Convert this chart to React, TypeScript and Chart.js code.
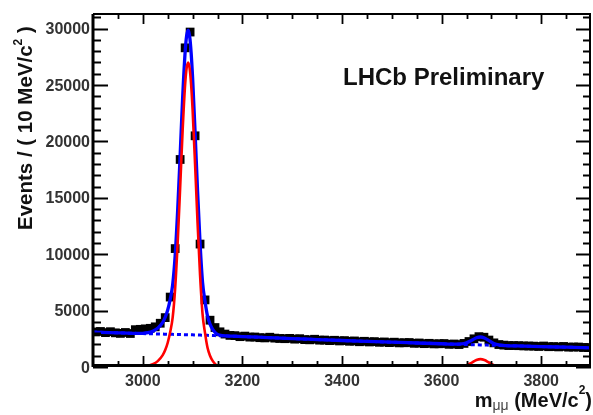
import { useEffect, useRef } from "react";
import { Chart, registerables } from "chart.js";

Chart.register(...registerables);

// ---- Data ----
const binCenters = [
  2905, 2915, 2925, 2935, 2945, 2955, 2965, 2975, 2985, 2995,
  3005, 3015, 3025, 3035, 3045, 3055, 3065, 3075, 3085, 3095,
  3105, 3115, 3125, 3135, 3145, 3155, 3165, 3175, 3185, 3195,
  3205, 3215, 3225, 3235, 3245, 3255, 3265, 3275, 3285, 3295,
  3305, 3315, 3325, 3335, 3345, 3355, 3365, 3375, 3385, 3395,
  3405, 3415, 3425, 3435, 3445, 3455, 3465, 3475, 3485, 3495,
  3505, 3515, 3525, 3535, 3545, 3555, 3565, 3575, 3585, 3595,
  3605, 3615, 3625, 3635, 3645, 3655, 3665, 3675, 3685, 3695,
  3705, 3715, 3725, 3735, 3745, 3755, 3765, 3775, 3785, 3795,
  3805, 3815, 3825, 3835, 3845, 3855, 3865, 3875, 3885, 3895,
];

const eventCounts = [
  3110, 3150, 3050, 3130, 3030, 2980, 3060, 2970, 3310, 3340,
  3380, 3430, 3560, 3880, 4380, 6200, 10500, 18400, 28300, 29700,
  20500, 10900, 5950, 4150, 3500, 3120, 2920, 2800, 2780, 2690,
  2740, 2650, 2660, 2600, 2580, 2640, 2560, 2530, 2510, 2540,
  2470, 2510, 2430, 2410, 2460, 2380, 2390, 2340, 2370, 2310,
  2340, 2280, 2310, 2240, 2280, 2220, 2250, 2190, 2220, 2160,
  2200, 2140, 2150, 2170, 2100, 2130, 2070, 2100, 2050, 2060,
  2080, 2010, 2040, 1990, 2090, 2260, 2500, 2690, 2640, 2390,
  2140, 1990, 1940, 1900, 1900, 1890, 1870, 1860, 1850, 1820,
  1860, 1800, 1810, 1780, 1820, 1760, 1770, 1770, 1730, 1720,
];

const curveMass = [
  2900, 2950, 2980, 2990, 3000, 3010, 3020, 3030, 3040, 3045,
  3050, 3055, 3060, 3065, 3070, 3075, 3080, 3085, 3088, 3091,
  3094, 3097, 3100, 3105, 3110, 3115, 3120, 3125, 3130, 3135,
  3140, 3145, 3150, 3160, 3180, 3200, 3250, 3300, 3350, 3400,
  3450, 3500, 3550, 3600, 3620, 3640, 3650, 3660, 3670, 3678,
  3686, 3695, 3705, 3715, 3730, 3750, 3800, 3850, 3900,
];

const backgroundFit = [
  3100, 3030, 2990, 2976, 2962, 2950, 2939, 2928, 2917, 2911,
  2905, 2900, 2894, 2888, 2883, 2877, 2872, 2866, 2863, 2860,
  2857, 2853, 2850, 2842, 2835, 2827, 2820, 2812, 2805, 2797,
  2790, 2782, 2775, 2760, 2730, 2700, 2610, 2520, 2435, 2350,
  2275, 2200, 2130, 2060, 2034, 2008, 1995, 1982, 1969, 1959,
  1948, 1937, 1924, 1912, 1894, 1870, 1810, 1755, 1700,
];

const signalFit = [
  0, 0, 0, 5, 25, 90, 240, 520, 1050, 1500,
  2150, 3100, 4400, 7000, 11000, 15900, 21000, 25050, 26500, 27000,
  26500, 25050, 22810, 17960, 12740, 8140, 4690, 3000, 1700, 1000,
  560, 280, 120, 20, 0, 0, 0, 0, 0, 0,
  0, 0, 0, 0, 0, 42, 151, 372, 618, 700,
  618, 398, 168, 48, 3, 0, 0, 0, 0,
];

const totalFit = [
  3100, 3030, 2990, 2981, 2987, 3040, 3179, 3448, 3967, 4411,
  5055, 6000, 7294, 9888, 13883, 18777, 23872, 27916, 29363, 29860,
  29357, 27903, 25660, 20802, 15575, 10967, 7510, 5812, 4505, 3797,
  3350, 3062, 2895, 2780, 2730, 2700, 2610, 2520, 2435, 2350,
  2275, 2200, 2130, 2060, 2034, 2050, 2146, 2354, 2587, 2659,
  2566, 2335, 2092, 1960, 1897, 1870, 1810, 1755, 1700,
];

const xLabelTicks = [3000, 3200, 3400, 3600, 3800];
const xAllTicks = [
  2950, 3000, 3050, 3100, 3150, 3200, 3250, 3300, 3350, 3400,
  3450, 3500, 3550, 3600, 3650, 3700, 3750, 3800, 3850,
];
const yLabelTicks = [0, 5000, 10000, 15000, 20000, 25000, 30000];
const yAllTicks = [
  0, 1000, 2000, 3000, 4000, 5000, 6000, 7000, 8000, 9000, 10000,
  11000, 12000, 13000, 14000, 15000, 16000, 17000, 18000, 19000, 20000,
  21000, 22000, 23000, 24000, 25000, 26000, 27000, 28000, 29000, 30000, 31000,
];

const FONT = '"Liberation Sans", Arial, Helvetica, sans-serif';

type Part = { text: string; font: string; dy: number; color?: string };

function drawParts(ctx: CanvasRenderingContext2D, parts: Part[], x: number, y: number, align: "left" | "right") {
  let total = 0;
  for (const p of parts) {
    ctx.font = p.font;
    total += ctx.measureText(p.text).width;
  }
  let cx = align === "left" ? x : x - total;
  ctx.textAlign = "left";
  ctx.textBaseline = "alphabetic";
  for (const p of parts) {
    ctx.font = p.font;
    if (p.color) ctx.fillStyle = p.color;
    ctx.fillText(p.text, cx, y + p.dy);
    cx += ctx.measureText(p.text).width;
  }
}

const framePlugin = {
  id: "rootFrame",
  afterDatasetsDraw(chart: any) {
    const { ctx, chartArea: a, scales } = chart;
    const x = scales.x;
    const y = scales.y;
    ctx.save();
    ctx.strokeStyle = "#000";
    ctx.lineWidth = 1.8;
    ctx.beginPath();
    for (const v of xAllTicks) {
      const px = Math.round(x.getPixelForValue(v)) + 0.5;
      const len = xLabelTicks.includes(v) ? 10 : 5;
      ctx.moveTo(px, a.bottom - 1);
      ctx.lineTo(px, a.bottom - 1 - len);
      ctx.moveTo(px, a.top);
      ctx.lineTo(px, a.top + len);
    }
    for (const v of yAllTicks) {
      const py = Math.round(y.getPixelForValue(v)) + 0.5;
      const len = yLabelTicks.includes(v) ? 15 : 8;
      ctx.moveTo(a.left, py);
      ctx.lineTo(a.left + len, py);
      ctx.moveTo(a.right, py);
      ctx.lineTo(a.right - len, py);
    }
    ctx.stroke();

    // frame
    ctx.lineWidth = 3;
    ctx.beginPath();
    ctx.moveTo(a.left, a.top);
    ctx.lineTo(a.left, a.bottom);
    ctx.moveTo(a.left - 1.5, a.bottom - 1.5);
    ctx.lineTo(a.right, a.bottom - 1.5);
    ctx.stroke();
    ctx.lineWidth = 2;
    ctx.beginPath();
    ctx.moveTo(a.left, a.top);
    ctx.lineTo(a.right - 1, a.top);
    ctx.lineTo(a.right - 1, a.bottom - 1);
    ctx.stroke();

    // tick labels
    ctx.fillStyle = "#333";
    ctx.font = `bold 16px ${FONT}`;
    ctx.textBaseline = "alphabetic";
    ctx.textAlign = "center";
    for (const v of xLabelTicks) {
      ctx.fillText(String(v), x.getPixelForValue(v), a.bottom + 19);
    }
    ctx.textAlign = "right";
    for (const v of yLabelTicks) {
      ctx.fillText(String(v), a.left - 3, y.getPixelForValue(v) + 5.5);
    }

    // axis titles
    ctx.fillStyle = "#111";
    drawParts(
      ctx,
      [
        { text: "m", font: `bold 20px ${FONT}`, dy: 0 },
        { text: "\u03bc\u03bc", font: `14px ${FONT}`, dy: 3, color: "#444" },
        { text: " (MeV/c", font: `bold 20px ${FONT}`, dy: 0, color: "#111" },
        { text: "2", font: `bold 12px ${FONT}`, dy: -13 },
        { text: ")", font: `bold 20px ${FONT}`, dy: 0 },
      ],
      592,
      407,
      "right"
    );

    ctx.save();
    ctx.translate(32, 230);
    ctx.rotate(-Math.PI / 2);
    ctx.fillStyle = "#111";
    drawParts(
      ctx,
      [
        { text: "Events / ( 10 MeV/c", font: `bold 20.5px ${FONT}`, dy: 0 },
        { text: "2", font: `bold 12px ${FONT}`, dy: -10 },
        { text: " )", font: `bold 20.5px ${FONT}`, dy: 0 },
      ],
      0,
      0,
      "left"
    );
    ctx.restore();

    ctx.fillStyle = "#111";
    ctx.font = `bold 24px ${FONT}`;
    ctx.textAlign = "left";
    ctx.fillText("LHCb Preliminary", 343, 85);

    ctx.restore();
  },
};

export default function App() {
  const canvasRef = useRef<HTMLCanvasElement | null>(null);

  useEffect(() => {
    const canvas = canvasRef.current;
    if (!canvas) return;
    const pointsData = binCenters.map((m, i) => ({ x: m, y: eventCounts[i] }));
    const bkgData = curveMass.map((m, i) => ({ x: m, y: backgroundFit[i] }));
    const sigData = curveMass.map((m, i) => ({ x: m, y: signalFit[i] }));
    const totData = curveMass.map((m, i) => ({ x: m, y: totalFit[i] }));

    const chart = new Chart(canvas, {
      type: "scatter",
      data: {
        datasets: [
          {
            label: "Signal",
            data: sigData,
            showLine: true,
            borderColor: "#ff0000",
            borderWidth: 2.6,
            pointRadius: 0,
            cubicInterpolationMode: "monotone",
            order: 0,
          } as any,
          {
            label: "Total fit",
            data: totData,
            showLine: true,
            borderColor: "#0000ff",
            borderWidth: 3.3,
            pointRadius: 0,
            cubicInterpolationMode: "monotone",
            order: 1,
          } as any,
          {
            label: "Background",
            data: bkgData,
            showLine: true,
            borderColor: "#0000ff",
            borderWidth: 3,
            borderDash: [4, 3],
            pointRadius: 0,
            cubicInterpolationMode: "monotone",
            order: 2,
          } as any,
          {
            label: "Data",
            data: pointsData,
            showLine: false,
            pointStyle: "rect",
            pointRadius: 6.2,
            pointBorderWidth: 0,
            backgroundColor: "#000",
            borderColor: "#000",
            order: 3,
          } as any,
        ],
      },
      options: {
        animation: false,
        responsive: false,
        devicePixelRatio: 1,
        events: [],
        layout: {
          autoPadding: false,
          padding: { left: 0, right: 2, top: 14, bottom: 0 },
        },
        plugins: {
          legend: { display: false },
          tooltip: { enabled: false },
          title: { display: false },
        },
        scales: {
          x: {
            type: "linear",
            min: 2900,
            max: 3900,
            grid: { display: false, drawTicks: false },
            border: { display: false },
            ticks: { display: false },
            afterFit: (s: any) => {
              s.height = 48;
            },
          },
          y: {
            type: "linear",
            min: 0,
            max: 31300,
            grid: { display: false, drawTicks: false },
            border: { display: false },
            ticks: { display: false },
            afterFit: (s: any) => {
              s.width = 93;
            },
          },
        },
      } as any,
      plugins: [framePlugin],
    });
    return () => chart.destroy();
  }, []);

  return (
    <div style={{ position: "fixed", left: 0, top: 0, width: 593, height: 415, background: "#fff" }}>
      <canvas ref={canvasRef} width={593} height={415} style={{ display: "block", width: 593, height: 415 }} />
    </div>
  );
}
